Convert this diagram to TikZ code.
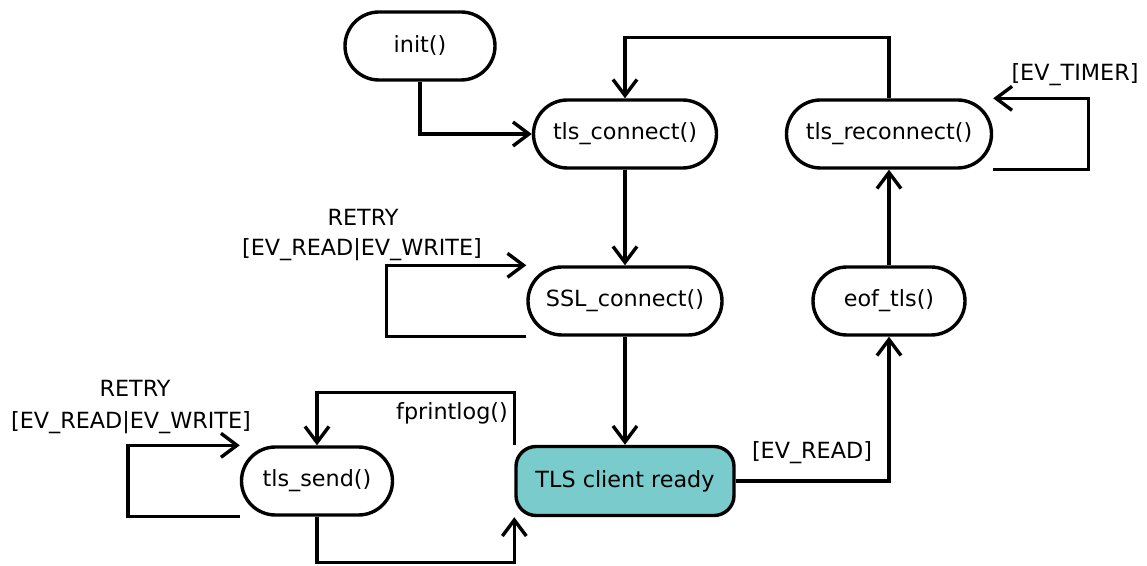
\documentclass[tikz,border=0pt]{standalone}
\usepackage{fontspec}
\setmainfont{DejaVu Sans}
\usetikzlibrary{arrows.meta}
\definecolor{readyfill}{RGB}{122,204,204}
\tikzset{
  state/.style={draw, line width=1.7pt, fill=white, rounded corners=17pt,
    minimum height=34pt, inner sep=0pt, font=\fontsize{11.15}{13.4}\selectfont},
  readybox/.style={state, fill=readyfill, rounded corners=10pt, minimum height=34.5pt},
  conn/.style={line width=1.7pt, -{Straight Barb[length=8pt,width=12pt,line width=1.7pt]}},
  lbl/.style={font=\fontsize{11.15}{13.4}\selectfont, inner sep=0pt}
}
\begin{document}
\begin{tikzpicture}[x=0.5pt, y=-0.5pt]
  \useasboundingbox (0,0) rectangle (1147,566);

  % states
  \node[state, minimum width=75pt]   (init) at (420,46)  {init()};
  \node[state, minimum width=91.5pt] (tc)   at (625,134) {tls\_connect()};
  \node[state, minimum width=102.5pt](tr)   at (889,134) {tls\_reconnect()};
  \node[state, minimum width=97pt]   (ssl)  at (625,301) {SSL\_connect()};
  \node[state, minimum width=76pt]   (eof)  at (889,301) {eof\_tls()};
  \node[state, minimum width=75.5pt] (send) at (317,481) {tls\_send()};
  \node[readybox, minimum width=109pt] (ready) at (625,481) {TLS client ready};

  % transitions
  \draw[conn] (init.south) |- (tc.west);
  \draw[conn] (tr.north) -- ++(0,-61) -| (tc.north);
  \draw[conn] (tr.south east) -- ++(95,0) |- (tr.north east);
  \draw[conn] (tc) -- (ssl);
  \draw[conn] (ssl.south west) -- ++(-140,0) |- (ssl.north west);
  \draw[conn] (ssl) -- (ready);
  \draw[conn] (ready.east) -| (eof.south);
  \draw[conn] (eof) -- (tr);
  \draw[conn] (send.south west) -- ++(-112,0) |- (send.north west);
  \draw[conn] (ready.north west) -- ++(0,-52) -| (send.north);
  \draw[conn] (send.south) -- ++(0,46) -| (ready.south west);

  % transition labels
  \node[lbl] (l1a) at (363,217) {RETRY};
  \node[lbl] (l1b) at (362,250) {[EV\_READ|EV\_WRITE]};
  \node[lbl] (l2a) at (135,388) {RETRY};
  \node[lbl] (l2b) at (131,423) {[EV\_READ|EV\_WRITE]};
  \node[lbl] (l3)  at (1075,75) {[EV\_TIMER]};
  \node[lbl] (l4)  at (812,453) {[EV\_READ]};
  \node[lbl] (l5)  at (452,413) {fprintlog()};
\end{tikzpicture}
\end{document}
